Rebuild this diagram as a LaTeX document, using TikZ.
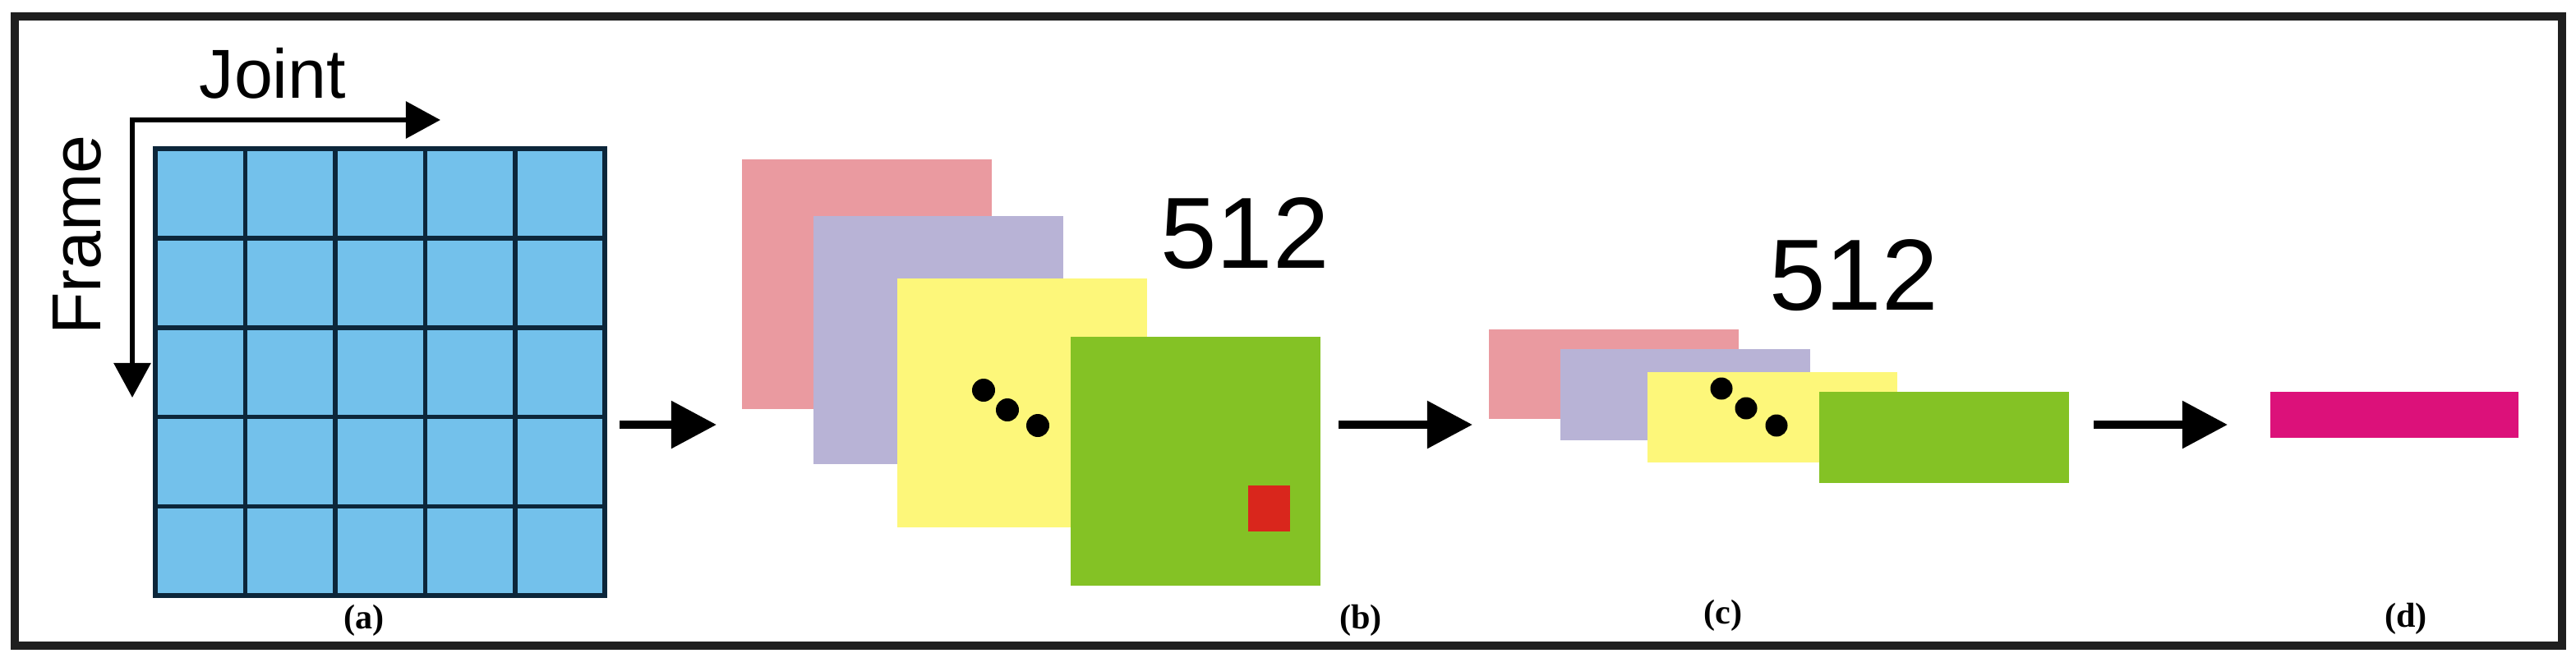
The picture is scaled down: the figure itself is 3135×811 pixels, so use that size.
\documentclass[tikz,border=0pt]{standalone}
\usepackage{fontspec}
\setmainfont{Liberation Serif}
\setsansfont{Liberation Sans}
\usetikzlibrary{arrows.meta,calc}

\definecolor{cellblue}{RGB}{115,193,235}
\definecolor{gridline}{RGB}{12,38,58}
\definecolor{sheetpink}{RGB}{234,154,160}
\definecolor{sheetlav}{RGB}{184,179,214}
\definecolor{sheetyellow}{RGB}{253,247,122}
\definecolor{sheetgreen}{RGB}{132,194,37}
\definecolor{patchred}{RGB}{217,38,28}
\definecolor{outmagenta}{RGB}{220,17,122}

\begin{document}
\begin{tikzpicture}[x=0.01cm, y=-0.01cm,
    sheet/.style={anchor=north west, inner sep=0pt, outer sep=0pt, minimum width=3.04cm},
    flow/.style={line width=2.6pt, -{Triangle[length=0.55cm, width=0.56cm]}},
    axisline/.style={line width=1.7pt,
        {Triangle[length=0.42cm, width=0.44cm]}-{Triangle[length=0.42cm, width=0.44cm]}},
    axislabel/.style={font=\sffamily\fontsize{24}{28}\selectfont, anchor=base, inner sep=0pt},
    count/.style={font=\sffamily\fontsize{35}{40}\selectfont, anchor=base, inner sep=0pt},
    sublabel/.style={font=\bfseries\fontsize{12}{14}\selectfont, inner sep=0pt}]

\useasboundingbox (0,0) rectangle (3135,811);

% Outer frame
\draw[line width=2.7pt, black!88] (18,20) rectangle (3118,786);

% (a) input matrix
\node[draw=gridline, fill=cellblue, line width=1.8pt, anchor=north west,
    inner sep=0pt, outer sep=0pt, minimum width=5.47cm, minimum height=5.44cm]
    (grid) at (189,181) {};
\foreach \i in {1,...,4} {
    \draw[gridline, line width=1.6pt]
        ($(grid.north west)!\i/5!(grid.north east)$) -- ($(grid.south west)!\i/5!(grid.south east)$);
    \draw[gridline, line width=1.6pt]
        ($(grid.north west)!\i/5!(grid.south west)$) -- ($(grid.north east)!\i/5!(grid.south east)$);
}
\coordinate (corner) at (161,146);
\coordinate (jointend) at (536,146);
\coordinate (frameend) at (161,484);
\draw[axisline] (jointend) -- (corner) -- (frameend);
\node[axislabel] (joint) at (332,119) {Joint};
\node[axislabel, rotate=90] (frame) at (122,286) {Frame};
\node[sublabel] (laba) at (443,755) {(a)};

% (b) feature maps
\node[sheet, fill=sheetpink, minimum height=3.04cm] (b1) at (903,194) {};
\node[sheet, fill=sheetlav, minimum height=3.02cm] (b2) at (990,263) {};
\node[sheet, fill=sheetyellow, minimum height=3.03cm] (b3) at (1092,339) {};
\node[sheet, fill=sheetgreen, minimum height=3.03cm] (b4) at (1303,410) {};
\node[anchor=north west, fill=patchred, inner sep=0pt,
    minimum width=0.51cm, minimum height=0.56cm] (patch) at (1518,590) {};
\foreach \x/\y in {1197/475, 1226/499, 1263/518}
    \fill (\x,\y) circle (0.14cm);
\node[count] (countb) at (1515,326) {512};
\node[sublabel] (labb) at (1656,755) {(b)};

% (c) pooled maps
\node[sheet, fill=sheetpink, minimum height=1.09cm] (c1) at (1812,401) {};
\node[sheet, fill=sheetlav, minimum height=1.11cm] (c2) at (1899,425) {};
\node[sheet, fill=sheetyellow, minimum height=1.10cm] (c3) at (2005,453) {};
\node[sheet, fill=sheetgreen, minimum height=1.11cm] (c4) at (2214,477) {};
\foreach \x/\y in {2095/473, 2125/497, 2162/518}
    \fill (\x,\y) circle (0.135cm);
\node[count] (countc) at (2256,377) {512};
\node[sublabel] (labc) at (2097,749) {(c)};

% (d) output vector
\node[sheet, fill=outmagenta, minimum width=3.02cm, minimum height=0.56cm] (d) at (2763,477) {};
\node[sublabel] (labd) at (2928,753) {(d)};

% arrows between stages
\draw[flow, shorten <=0.18cm, shorten >=0.31cm] (grid.east |- 0,517) -- (b1.west |- 0,517);
\draw[flow, shorten <=0.22cm, shorten >=0.20cm] (b4.east |- 0,517) -- (c1.west |- 0,517);
\draw[flow, shorten <=0.30cm, shorten >=0.52cm] (c4.east |- 0,517) -- (d.west |- 0,517);

\end{tikzpicture}
\end{document}
